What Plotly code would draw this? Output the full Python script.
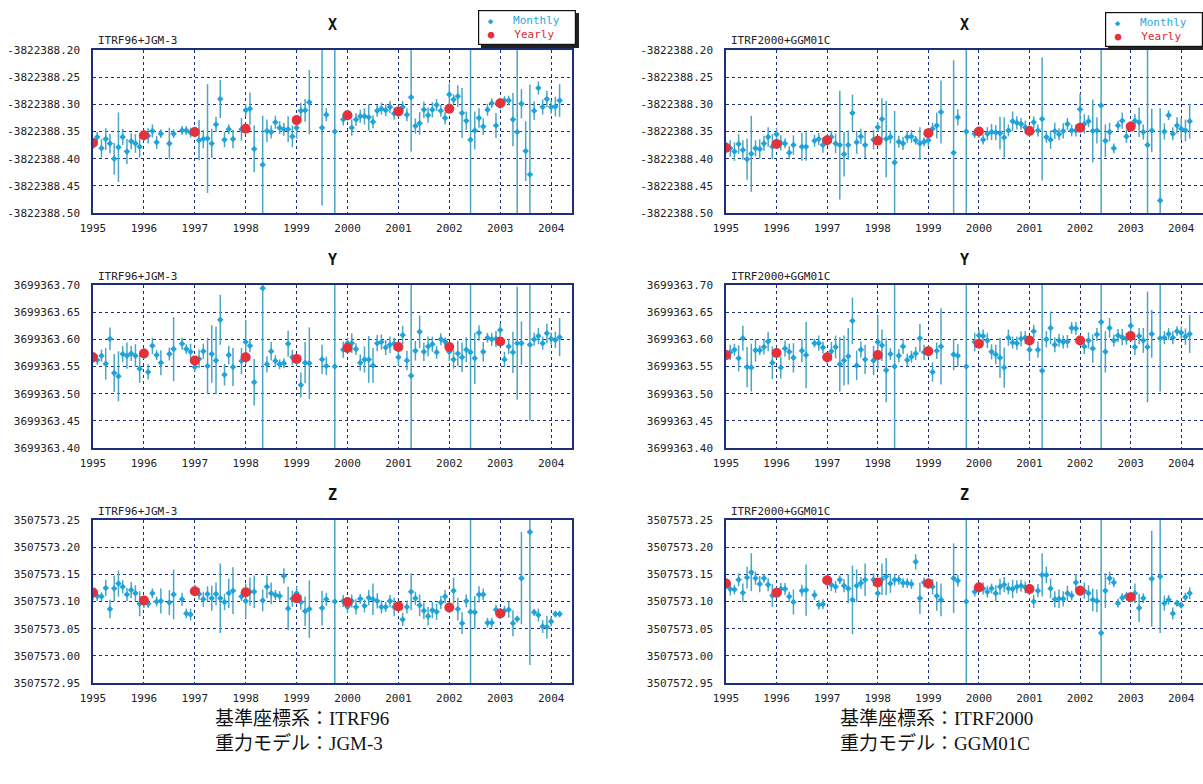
import plotly.graph_objects as go

N = None
BASE_X = -3822388.0
BASE_Y = 3699363.0
BASE_Z = 3507573.0

MONTH_T = [1995 + i / 12 for i in range(111)]
YEARS = [1995, 1996, 1997, 1998, 1999, 2000, 2001, 2002, 2003]
XTICKS = [1995, 1996, 1997, 1998, 1999, 2000, 2001, 2002, 2003, 2004]

X_TICK_OFF = [-0.50, -0.45, -0.40, -0.35, -0.30, -0.25, -0.20]
Y_TICK_OFF = [0.40, 0.45, 0.50, 0.55, 0.60, 0.65, 0.70]
Z_TICK_OFF = [-0.05, 0.00, 0.05, 0.10, 0.15, 0.20, 0.25]

# ---------------- ITRF96 + JGM-3 (monthly, offsets from base) ----------------
X96_V = [
    -.372, -.360, -.381, -.364, -.372, -.400, -.379, -.360, -.387, -.368, -.372, -.378,
    -.357, -.358, -.349, -.370, -.354, N, -.372, -.354, N, -.348, -.348, -.352,
    -.351, -.366, -.364, -.363, -.372, -.337, -.290, -.365, -.346, -.364, N, -.346,
    -.311, -.308, -.382, N, -.411, -.349, -.351, -.333, -.343, -.346, -.346, -.359,
    -.343, -.312, -.311, -.296, N, N, -.343, -.319, N, -.350, N, -.328,
    -.320, -.343, -.328, -.322, -.322, -.324, -.332, -.312, -.308, -.311, -.305, -.317,
    -.313, -.305, -.319, -.287, -.340, -.335, -.310, -.320, -.310, -.301, -.312, -.325,
    -.282, -.291, -.285, -.316, -.330, -.365, -.348, -.325, -.341, -.310, -.298, -.339,
    -.298, -.293, -.293, -.328, -.351, -.299, -.386, -.429, -.312, -.270, -.305, -.290,
    -.305, -.304, -.293]
X96_E = [
    .010, .009, .017, .020, .018, .029, .064, .015, .023, .015, .017, .020,
    .010, .014, .012, .012, .008, N, .029, .008, N, .008, .008, .009,
    .010, .037, .017, .100, .027, .014, .035, .014, .009, .017, N, .021,
    .011, .030, .043, N, .090, .021, .012, .012, .012, .012, .024, .020,
    .020, .015, .021, .059, N, N, .143, .012, N, .300, N, .011,
    .010, .015, .012, .012, .015, .024, .012, .011, .011, .011, .011, .011,
    .010, .011, .012, .100, .014, .021, .015, .014, .014, .011, .011, .012,
    .020, .009, .020, .046, .017, .300, .035, .018, .015, .011, .009, .023,
    .010, .008, .009, .049, .300, .027, .055, .165, .017, .012, .014, .015,
    .012, .018, .030]
X96_YR = [-.371, -.357, -.351, -.345, -.329, -.320, -.313, -.308, -.298]

Y96_V = [
    .567, .562, .570, .555, .601, .538, .532, .573, .570, .574, .570, .546,
    .574, .540, .588, .571, .557, N, .573, .582, N, .592, .582, .577,
    .549, .564, .578, .551, .573, .561, .636, .535, .571, .549, N, .560,
    .595, .588, .521, N, .694, .554, .578, .560, .554, .556, .592, .567,
    .562, .516, .557, .556, N, N, .563, .551, N, .550, N, .581,
    .593, .593, .582, .557, .563, .563, .552, .593, .595, .585, .590, .592,
    .567, .608, .561, .533, .579, .614, .577, .587, .591, .576, .600, .596,
    .577, .563, .574, .567, .581, .576, .565, .612, .577, .603, .600, .601,
    .617, .563, .587, .576, .593, .593, N, .590, .600, .606, .593, .611,
    .601, .599, .604]
Y96_E = [
    .010, .009, .011, .029, .021, .035, .046, .015, .024, .014, .021, .026,
    .010, .014, .015, .009, .023, N, .012, .059, N, .011, .009, .015,
    .008, .017, .014, .052, .053, .062, .046, .020, .017, .035, N, .024,
    .041, .012, .043, N, .300, .015, .017, .011, .009, .009, .024, .014,
    .009, .023, .038, .066, N, N, .027, .017, N, .300, N, .015,
    .010, .018, .011, .015, .024, .043, .032, .015, .014, .014, .015, .011,
    .015, .017, .018, .300, .018, .030, .017, .018, .014, .012, .011, .008,
    .017, .017, .024, .027, .023, .300, .047, .014, .018, .009, .012, .015,
    .012, .014, .014, .038, .104, .040, N, .140, .012, .015, .012, .018,
    .011, .015, .035]
Y96_YR = [.567, .574, .561, .567, .564, .584, .586, .586, .596]

Z96_V = [
    .113, .110, .109, .125, .086, .124, .133, .127, .113, .121, .115, .096,
    .098, .096, .115, .100, .101, N, .098, .113, N, .104, .078, .076,
    .121, .114, .104, .114, .106, .114, .106, .099, .115, .120, N, .109,
    .101, .118, .118, N, .102, .127, .115, .112, .110, .147, .087, .105,
    .115, .099, .082, .086, N, N, .088, .104, N, .100, N, .101,
    .090, .101, .090, .105, .092, .107, .104, .101, .090, .090, .101, .090,
    .091, .067, .090, .118, .106, .093, .083, .073, .084, .081, .098, .109,
    .089, .120, .086, .060, .101, .081, .080, .113, .113, .061, .061, .085,
    .078, .083, .085, .060, .068, .143, N, .228, .080, .075, .054, .053,
    .063, .077, .077]
Z96_E = [
    .010, .009, .008, .015, .017, .024, .024, .012, .012, .015, .015, .023,
    .010, .008, .009, .009, .023, N, .023, .046, N, .012, .009, .011,
    .010, .011, .014, .014, .023, .021, .064, .015, .027, .043, N, .008,
    .032, .026, .030, N, .020, .021, .020, .009, .009, .014, .040, .015,
    .012, .014, .027, .053, N, N, .032, .012, N, .300, N, .011,
    .011, .012, .014, .009, .012, .014, .029, .014, .012, .009, .011, .017,
    .010, .012, .012, .034, .012, .020, .015, .017, .015, .015, .012, .012,
    .010, .024, .021, .020, .012, .300, .030, .015, .011, .009, .009, .009,
    .010, .009, .015, .024, .006, .085, N, .245, .006, .012, .012, .021,
    .009, .006, .006]
Z96_YR = [.1165, .102, .119, .117, .106, .099, .091, .089, .078]

# ---------------- ITRF2000 + GGM01C ----------------
X00_V = [
    -.380, -.381, -.387, -.373, -.384, -.401, -.391, -.381, -.382, -.372, -.360, -.378,
    -.355, -.371, -.372, -.389, -.375, N, -.378, -.378, N, -.367, -.364, -.375,
    -.366, -.360, -.372, -.375, -.392, -.375, -.316, -.370, -.359, -.375, N, -.365,
    -.342, -.327, -.364, -.360, -.407, -.369, -.372, -.360, -.359, -.366, -.372, -.369,
    -.366, -.345, -.339, -.314, N, N, -.389, -.324, N, -.350, N, -.354,
    -.352, -.365, -.354, -.351, -.352, -.353, -.361, -.348, -.331, -.334, -.336, -.342,
    -.349, -.333, -.348, -.327, -.360, -.365, -.349, -.355, -.349, -.336, -.348, -.348,
    -.309, -.336, -.331, -.349, -.348, -.302, -.367, -.351, -.381, -.339, -.330, -.359,
    -.341, -.330, -.333, -.351, -.375, -.348, N, -.477, -.350, -.320, -.354, -.339,
    -.345, -.348, -.331]
X00_E = [
    .010, .015, .017, .018, .018, .038, .070, .015, .018, .014, .018, .023,
    .012, .014, .009, .012, .018, N, .026, .026, N, .011, .011, .014,
    .010, .011, .018, .100, .041, .027, .034, .021, .014, .024, N, .018,
    .009, .038, .070, .012, .095, .011, .012, .011, .012, .008, .030, .008,
    .010, .011, .024, .058, N, N, .170, .015, N, .300, N, .008,
    .010, .009, .012, .015, .014, .030, .037, .011, .018, .012, .011, .012,
    .010, .011, .011, .113, .011, .017, .015, .011, .014, .011, .011, .011,
    .029, .018, .011, .058, .024, .300, .030, .017, .009, .009, .015, .012,
    .010, .012, .027, .014, .300, .040, N, .170, .015, .009, .012, .015,
    .020, .020, .032]
X00_YR = [-.380, -.373, -.366, -.367, -.353, -.350, -.349, -.343, -.341]

Y00_V = [
    .571, .576, .581, .565, .602, .549, .548, .580, .580, .586, .596, .557,
    .575, .548, .583, .577, .566, N, .579, .571, N, .593, .593, .585,
    .565, .578, .586, .554, .561, .569, .634, .552, .581, .563, N, .561,
    .595, .589, .543, .573, .550, .570, .587, .562, .568, .574, .602, .576,
    .578, .540, .579, .587, N, N, .572, .570, N, .550, N, .595,
    .607, .606, .598, .577, .572, .566, .548, .603, .594, .593, .601, .603,
    .581, .615, .581, .542, .600, .621, .590, .598, .595, .596, .621, .620,
    .598, .587, .598, .583, .609, .632, .577, .621, .598, .607, .604, .601,
    .625, .586, .606, .598, .586, .610, N, .602, .603, .610, .603, .615,
    .612, .605, .610]
Y00_E = [
    .010, .014, .011, .024, .023, .037, .044, .021, .009, .014, .018, .030,
    .010, .020, .015, .015, .027, N, .021, .061, N, .008, .014, .011,
    .010, .017, .021, .050, .046, .052, .043, .027, .015, .027, N, .027,
    .049, .029, .059, .011, .300, .012, .014, .012, .011, .012, .026, .014,
    .010, .018, .015, .070, N, N, .029, .021, N, .300, N, .017,
    .010, .012, .014, .014, .018, .037, .037, .015, .011, .012, .014, .012,
    .021, .012, .015, .300, .015, .030, .014, .012, .012, .012, .011, .012,
    .010, .014, .015, .026, .012, .300, .038, .018, .011, .012, .015, .011,
    .015, .015, .015, .023, .102, .044, N, .098, .012, .011, .012, .009,
    .011, .015, .035]
Y00_YR = [.571, .575, .567, .571, .578, .592, .598, .598, .606]

Z00_V = [
    .133, .123, .122, .140, .116, .144, .154, .143, .132, .143, .131, .111,
    .116, .123, .123, .109, .099, N, .120, .121, N, .112, .094, .095,
    .139, .131, .127, .140, .129, .124, .103, .129, .134, .140, N, .140,
    .115, .141, .146, .133, .140, .140, .134, .134, .132, .173, .106, .135,
    .133, .127, .110, .103, N, N, .143, .138, N, .100, N, .118,
    .126, .124, .118, .124, .115, .127, .131, .124, .123, .127, .129, .126,
    .123, .100, .120, .149, .149, .124, .104, .105, .105, .115, .111, .135,
    .120, .120, .115, .103, .101, .042, .120, .143, .135, .097, .107, .110,
    .108, .115, .088, .106, N, .142, N, .146, .097, .103, .078, .097,
    .093, .108, .115]
Z00_E = [
    .010, .012, .009, .012, .017, .020, .035, .012, .015, .008, .012, .021,
    .010, .011, .011, .009, .023, N, .011, .047, N, .009, .009, .009,
    .010, .012, .011, .008, .012, .027, .063, .030, .011, .030, N, .012,
    .009, .029, .034, .017, .011, .009, .009, .009, .009, .014, .029, .009,
    .010, .014, .027, .030, N, N, .064, .011, N, .300, N, .009,
    .010, .011, .011, .009, .015, .015, .014, .011, .017, .012, .011, .011,
    .010, .012, .012, .040, .015, .018, .015, .017, .014, .014, .009, .015,
    .010, .015, .015, .021, .021, .300, .032, .012, .009, .008, .008, .008,
    .010, .018, .026, .009, N, .088, N, .104, .014, .009, .011, .006,
    .006, .008, .011]
Z00_YR = [.133, .116, .139, .135, .133, .126, .123, .120, .108]

CAPTIONS = [["基準座標系：ITRF96", "重力モデル：JGM-3"],
            ["基準座標系：ITRF2000", "重力モデル：GGM01C"]]
SUBTITLES = ["ITRF96+JGM-3", "ITRF2000+GGM01C"]
COMP_TITLES = ["X", "Y", "Z"]
LEGEND_LABELS = ["Monthly", "Yearly"]

# ---------------- layout geometry ----------------
W, H = 1203, 784
COL_X = [(93, 572, 2004.41), (726, 1203, 2004.43)]
ROW_Y = [(50, 213), (285, 448), (520, 683)]
LEG_POS = [(478, 10), (1105, 12)]
LEG_W, LEG_H = 92, 29
CAP_X = [213, 838]

NAVY = "#1c2f78"
MONTH_C = "#1ea3dc"
ERR_C = "#4aa6c4"
YEAR_C = "#e5313b"
MONO = "DejaVu Sans Mono"

panels = [
    (0, 0, BASE_X, X96_V, X96_E, X96_YR, X_TICK_OFF),
    (1, 0, BASE_Y, Y96_V, Y96_E, Y96_YR, Y_TICK_OFF),
    (2, 0, BASE_Z, Z96_V, Z96_E, Z96_YR, Z_TICK_OFF),
    (0, 1, BASE_X, X00_V, X00_E, X00_YR, X_TICK_OFF),
    (1, 1, BASE_Y, Y00_V, Y00_E, Y00_YR, Y_TICK_OFF),
    (2, 1, BASE_Z, Z00_V, Z00_E, Z00_YR, Z_TICK_OFF),
]

fig = go.Figure()
layout = {}
annotations = []
shapes = []

for k, (row, col, base, vals, errs, yrs, toff) in enumerate(panels):
    idx = k + 1
    xa = "x" if idx == 1 else f"x{idx}"
    ya = "y" if idx == 1 else f"y{idx}"
    yv = [None if v is None else base + v for v in vals]
    fig.add_trace(go.Scatter(
        x=MONTH_T, y=yv, mode="markers", name=LEGEND_LABELS[0],
        marker=dict(symbol="diamond", size=5, color=MONTH_C),
        error_y=dict(type="data", array=errs, visible=True, color=ERR_C, thickness=1.5, width=0),
        xaxis=xa, yaxis=ya, showlegend=False, hoverinfo="skip"))
    fig.add_trace(go.Scatter(
        x=YEARS, y=[base + v for v in yrs], mode="markers", name=LEGEND_LABELS[1],
        marker=dict(symbol="circle", size=10, color=YEAR_C),
        xaxis=xa, yaxis=ya, showlegend=False, hoverinfo="skip"))

    x0, x1, xend = COL_X[col]
    y0, y1 = ROW_Y[row]
    tickvals = [base + o for o in toff]
    axcommon = dict(showgrid=True, gridcolor=NAVY, griddash="dot", gridwidth=1,
                    showline=True, mirror=True, linecolor=NAVY, linewidth=1.5,
                    zeroline=False, ticks="", fixedrange=True, automargin=False,
                    tickfont=dict(family=MONO, size=11, color="#222"))
    layout["xaxis" if idx == 1 else f"xaxis{idx}"] = dict(
        domain=[x0 / W, x1 / W], range=[1995, xend], anchor=ya,
        tickvals=XTICKS, ticktext=[str(t) for t in XTICKS], ticklabelstandoff=4,
        **axcommon)
    layout["yaxis" if idx == 1 else f"yaxis{idx}"] = dict(
        domain=[1 - y1 / H, 1 - y0 / H], range=[tickvals[0], tickvals[-1]], anchor=xa,
        tickvals=tickvals, ticktext=[f"{t:.2f}" for t in tickvals], ticklabelstandoff=9,
        **axcommon)

    annotations.append(dict(text=f"<b>{COMP_TITLES[row]}</b>", xref="paper", yref="paper",
                            x=(x0 + x1) / 2 / W, y=1 - (y0 - 25) / H, showarrow=False,
                            font=dict(family=MONO, size=15, color="#111"),
                            xanchor="center", yanchor="middle"))
    annotations.append(dict(text=SUBTITLES[col], xref="paper", yref="paper",
                            x=(x0 + 3) / W, y=1 - (y0 - 9) / H, showarrow=False,
                            font=dict(family=MONO, size=11, color="#222"),
                            xanchor="left", yanchor="middle"))

# legend boxes (drop shadow shape + bordered text box) per column
NB = "\u00a0"
for col, (lx, ly) in enumerate(LEG_POS):
    txt = (f"{NB}<span style='color:{MONTH_C};font-size:9px'>◆</span>{NB}{NB}{NB}"
           f"<span style='color:#2aa8dc'>{LEGEND_LABELS[0]}</span><br>"
           f"{NB}<span style='color:{YEAR_C}'>●</span>{NB}{NB}{NB}"
           f"<span style='color:#d92a35'>{LEGEND_LABELS[1]}</span>")
    ow, oh = LEG_W + 6, LEG_H + 6
    shapes.append(dict(type="rect", xref="paper", yref="paper", layer="above",
                       x0=(lx + 3) / W, x1=(lx + 3 + ow) / W,
                       y0=1 - (ly + 3 + oh) / H, y1=1 - (ly + 3) / H,
                       fillcolor="#222", line=dict(width=0)))
    annotations.append(dict(
        text=txt, xref="paper", yref="paper", x=lx / W, y=1 - ly / H,
        xanchor="left", yanchor="top", align="left", valign="middle", showarrow=False,
        width=LEG_W, height=LEG_H,
        font=dict(family=MONO, size=11, color="#222"),
        bgcolor="white", bordercolor="#111", borderwidth=1.2, borderpad=2))

for col, lines in enumerate(CAPTIONS):
    for j, t in enumerate(lines):
        annotations.append(dict(text=t, xref="paper", yref="paper", x=CAP_X[col] / W,
                                y=1 - (718 + 25 * j) / H, showarrow=False,
                                font=dict(family="Liberation Serif, Noto Sans CJK JP", size=19, color="#111"),
                                xanchor="left", yanchor="middle"))

fig.update_layout(**layout)
fig.update_layout(width=W, height=H, margin=dict(l=0, r=0, t=0, b=0), autosize=False,
                  showlegend=False, paper_bgcolor="white", plot_bgcolor="white",
                  annotations=annotations, shapes=shapes)
fig.write_html("out.html")
